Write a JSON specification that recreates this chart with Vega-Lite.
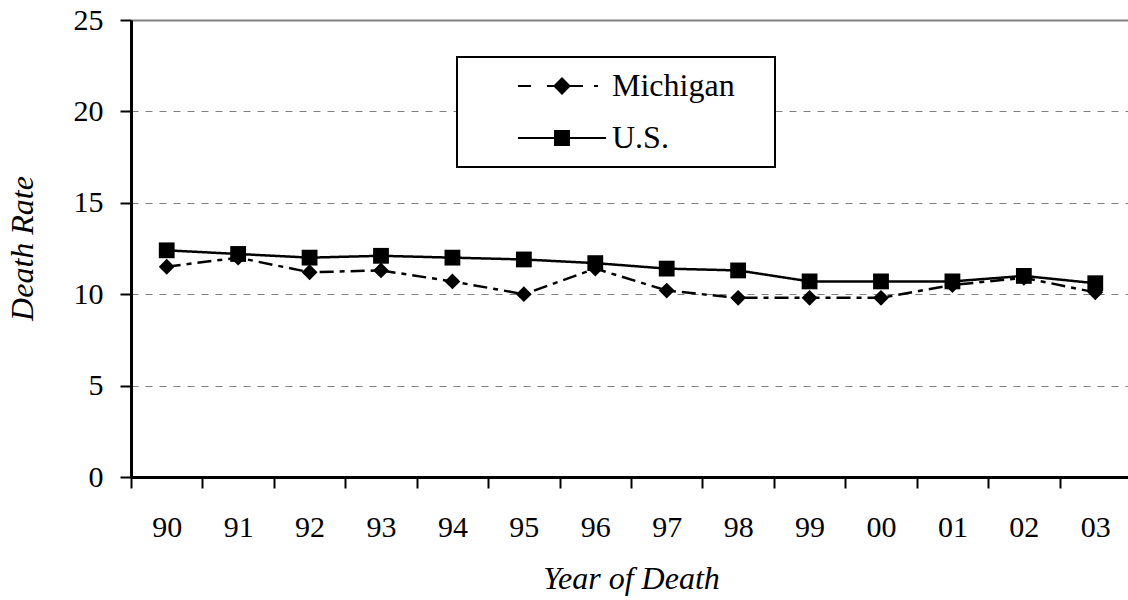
{
  "$schema": "https://vega.github.io/schema/vega-lite/v6.json",
  "autosize": {"type": "none"},
  "padding": {"left": 131, "top": 20, "right": 0, "bottom": 123},
  "width": 1000,
  "height": 457,
  "background": "white",
  "config": {
    "view": {"stroke": null},
    "font": "Liberation Serif",
    "legend": {
      "title": null,
      "orient": "none",
      "legendX": 326,
      "legendY": 37,
      "padding": 13,
      "rowPadding": 20,
      "strokeColor": "black",
      "strokeWidth": 2,
      "fillColor": "white",
      "symbolSize": 576,
      "symbolOpacity": 1,
      "symbolOffset": 76,
      "symbolStrokeColor": "black",
      "symbolFillColor": "black",
      "symbolStrokeWidth": 2,
      "labelOffset": 34,
      "labelFont": "Liberation Serif",
      "labelFontSize": 32,
      "labelColor": "black",
      "labelLimit": 400
    }
  },
  "data": {
    "values": [
      {"year": "90", "series": "Michigan", "rate": 11.5},
      {"year": "91", "series": "Michigan", "rate": 12.0},
      {"year": "92", "series": "Michigan", "rate": 11.2},
      {"year": "93", "series": "Michigan", "rate": 11.3},
      {"year": "94", "series": "Michigan", "rate": 10.7},
      {"year": "95", "series": "Michigan", "rate": 10.0},
      {"year": "96", "series": "Michigan", "rate": 11.4},
      {"year": "97", "series": "Michigan", "rate": 10.2},
      {"year": "98", "series": "Michigan", "rate": 9.8},
      {"year": "99", "series": "Michigan", "rate": 9.8},
      {"year": "00", "series": "Michigan", "rate": 9.8},
      {"year": "01", "series": "Michigan", "rate": 10.5},
      {"year": "02", "series": "Michigan", "rate": 10.9},
      {"year": "03", "series": "Michigan", "rate": 10.1},
      {"year": "90", "series": "U.S.", "rate": 12.4},
      {"year": "91", "series": "U.S.", "rate": 12.2},
      {"year": "92", "series": "U.S.", "rate": 12.0},
      {"year": "93", "series": "U.S.", "rate": 12.1},
      {"year": "94", "series": "U.S.", "rate": 12.0},
      {"year": "95", "series": "U.S.", "rate": 11.9},
      {"year": "96", "series": "U.S.", "rate": 11.7},
      {"year": "97", "series": "U.S.", "rate": 11.4},
      {"year": "98", "series": "U.S.", "rate": 11.3},
      {"year": "99", "series": "U.S.", "rate": 10.7},
      {"year": "00", "series": "U.S.", "rate": 10.7},
      {"year": "01", "series": "U.S.", "rate": 10.7},
      {"year": "02", "series": "U.S.", "rate": 11.0},
      {"year": "03", "series": "U.S.", "rate": 10.6}
    ]
  },
  "encoding": {
    "x": {
      "field": "year",
      "type": "nominal",
      "sort": null,
      "bandPosition": 0.5,
      "scale": {"type": "band", "paddingInner": 0, "paddingOuter": 0},
      "axis": {
        "title": "Year of Death",
        "labelAngle": 0,
        "tickBand": "extent",
        "domainColor": "black",
        "domainWidth": 3,
        "tickColor": "black",
        "tickWidth": 2,
        "tickSize": 11,
        "labelFont": "Liberation Serif",
        "labelFontSize": 30,
        "labelColor": "black",
        "labelBaseline": "alphabetic",
        "labelPadding": 48,
        "titleFont": "Liberation Serif",
        "titleFontSize": 32,
        "titleFontStyle": "italic",
        "titleFontWeight": "normal",
        "titleColor": "black",
        "titleBaseline": "alphabetic",
        "titleY": 111,
        "grid": false
      }
    },
    "y": {
      "field": "rate",
      "type": "quantitative",
      "scale": {"domain": [0, 25], "nice": false},
      "axis": {
        "title": "Death Rate",
        "values": [0, 5, 10, 15, 20, 25],
        "domainColor": "black",
        "domainWidth": 3,
        "tickColor": "black",
        "tickWidth": 2,
        "tickSize": 11,
        "labelFont": "Liberation Serif",
        "labelFontSize": 30,
        "labelColor": "black",
        "labelPadding": 17,
        "titleFont": "Liberation Serif",
        "titleFontSize": 32,
        "titleFontStyle": "italic",
        "titleFontWeight": "normal",
        "titleColor": "black",
        "titleAngle": 270,
        "titleBaseline": "middle",
        "titleX": -109,
        "titleY": 228,
        "grid": true,
        "gridColor": "#808080",
        "gridWidth": {"condition": {"test": "datum.value === 25", "value": 2}, "value": 1},
        "gridDash": {"condition": {"test": "datum.value === 25", "value": []}, "value": [7, 7]}
      }
    }
  },
  "resolve": {"scale": {"shape": "independent"}},
  "layer": [
    {
      "mark": {"type": "line", "color": "black", "strokeWidth": 2.5},
      "encoding": {
        "detail": {"field": "series"},
        "strokeDash": {
          "field": "series",
          "type": "nominal",
          "scale": {"range": [[14, 6, 5, 6], [1, 0]]},
          "legend": null
        }
      }
    },
    {
      "mark": {"type": "point", "filled": true, "color": "black", "opacity": 1, "size": 250},
      "encoding": {
        "shape": {
          "field": "series",
          "type": "nominal",
          "scale": {"range": ["diamond", "square"]},
          "legend": null
        }
      }
    },
    {
      "mark": {"type": "point", "filled": false, "color": "black", "strokeWidth": 2, "opacity": 0, "size": 1},
      "encoding": {
        "shape": {
          "field": "series",
          "type": "nominal",
          "scale": {
            "domain": ["Michigan", "U.S."],
            "range": [
              "M16.3,0M-3.67,0H-2.58M-1.25,0H-0.625M0.625,0H1.75M2.67,0H3M-0.625,0L0,-0.625L0.625,0L0,0.625ZM-0.045,-0.58H0.045M-0.205,-0.42H0.205M-0.375,-0.25H0.375M-0.545,-0.08H0.545M-0.625,0H0.625M-0.545,0.08H0.545M-0.375,0.25H0.375M-0.205,0.42H0.205M-0.045,0.58H0.045",
              "M16.3,0M-3.67,0H3.67M-0.58,-0.58H0.58V0.58H-0.58ZM-0.58,-0.42H0.58M-0.58,-0.25H0.58M-0.58,-0.08H0.58M-0.58,0.08H0.58M-0.58,0.25H0.58M-0.58,0.42H0.58"
            ]
          },
          "legend": {
            "encode": {
              "symbols": {
                "size": {"value": 576},
                "stroke": {"value": "black"},
                "strokeWidth": {"value": 2},
                "strokeOpacity": {"value": 1},
                "opacity": {"value": 1}
              }
            }
          }
        }
      }
    }
  ]
}
